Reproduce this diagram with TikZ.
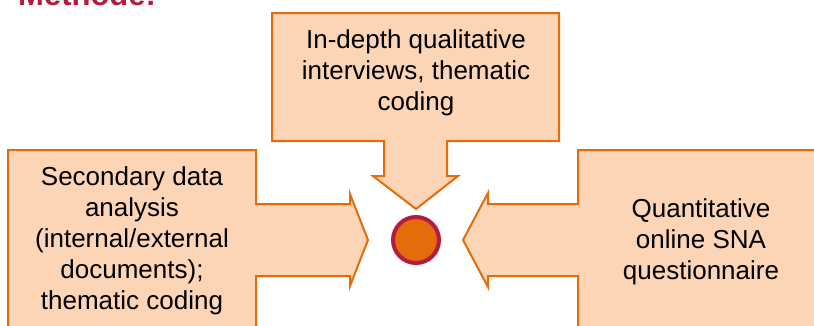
\documentclass[tikz,border=0pt]{standalone}
\usepackage{fontspec}
\setmainfont{Liberation Sans}
\definecolor{peach}{RGB}{251,213,181}
\definecolor{burntorange}{RGB}{228,108,10}
\definecolor{crimsonred}{RGB}{181,27,62}
\tikzset{
  callout/.style={fill=peach, draw=burntorange, line width=2pt, line join=miter},
  calltext/.style={align=center, inner sep=0pt, text=black, font=\fontsize{26}{31}\selectfont},
}

\begin{document}
\begin{tikzpicture}[x=1pt, y=-1pt]
	\useasboundingbox (0,0) rectangle (814,325);

	% heading, cut off by the top edge
	\node[anchor=base west, inner sep=0pt, text=crimsonred, font=\fontsize{31}{37}\selectfont\bfseries] (heading) at (18,5) {Methode:};

	% top callout
	\draw[callout] (272,13) -- (559,13) -- (559,141) -- (447,141) -- (447,176) -- (458,176) -- (416,209)
		-- (373,176) -- (384,176) -- (384,141) -- (272,141) -- cycle;
	\node[calltext] (qual) at (416,73) {In-depth qualitative\\interviews, thematic\\coding};

	% left callout
	\draw[callout] (8,150) -- (256,150) -- (256,204) -- (350,204) -- (350,194) -- (368,240)
		-- (350,286) -- (350,276) -- (256,276) -- (256,340) -- (8,340) -- cycle;
	\node[calltext] (second) at (132,241) {Secondary data\\analysis\\(internal/external\\documents);\\thematic coding};

	% right callout
	\draw[callout] (830,150) -- (578,150) -- (578,204) -- (488,204) -- (488,193) -- (463,240)
		-- (488,287) -- (488,276) -- (578,276) -- (578,340) -- (830,340) -- cycle;
	\node[calltext] (quant) at (701,242) {Quantitative\\online SNA\\questionnaire};

	% hub
	\node[circle, inner sep=0pt, minimum size=46pt, fill=burntorange, draw=crimsonred, line width=4pt] (hub) at (416,240) {};
\end{tikzpicture}
\end{document}
